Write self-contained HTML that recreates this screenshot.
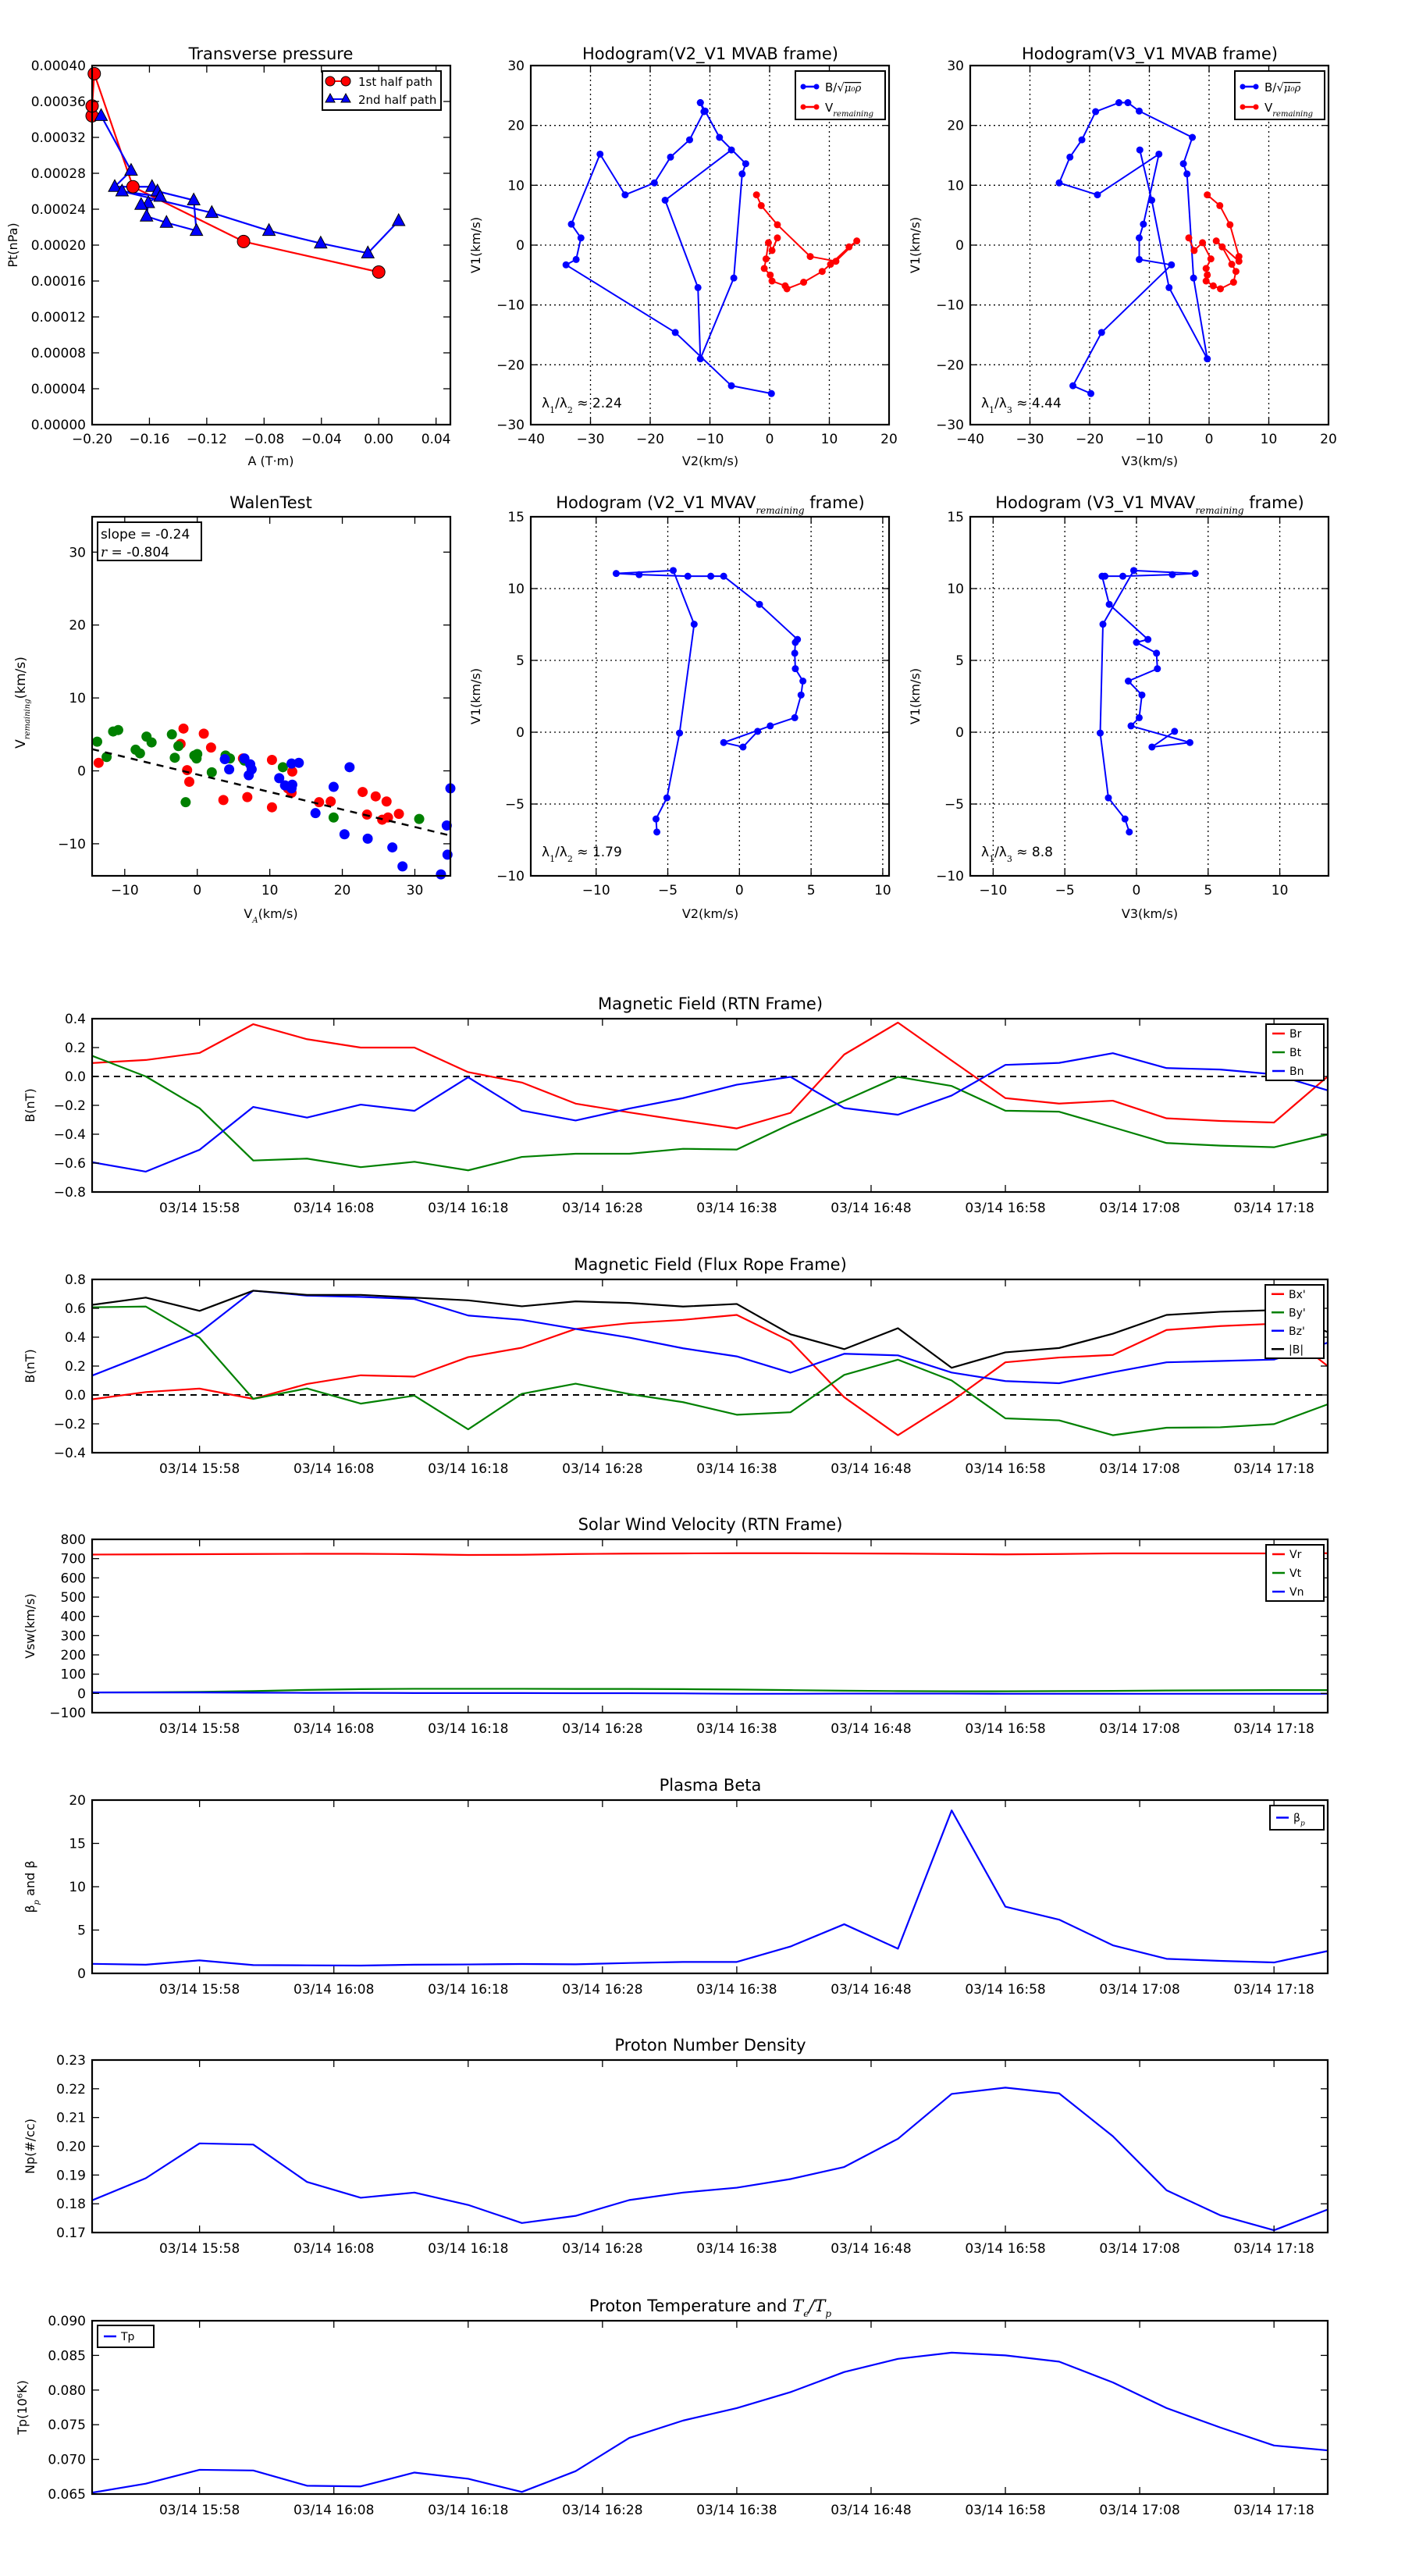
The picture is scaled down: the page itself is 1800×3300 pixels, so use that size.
<!DOCTYPE html>
<html><head><meta charset="utf-8"><style>
html,body{margin:0;padding:0;background:#fff}
svg{display:block;font-family:"DejaVu Sans","Liberation Sans",sans-serif}
</style></head><body>
<svg id="fig" xmlns="http://www.w3.org/2000/svg" width="1800" height="3300" viewBox="0 0 1800 3300"></svg>
<script>
// ---------- data ----------
const ptRedA = [-0.2,-0.2,-0.1985,-0.1715,-0.0943,0.0];
const ptRedP = [0.000344,0.000355,0.000391,0.000265,0.000204,0.00017];
const ptBlueA = [-0.1937,-0.1728,-0.1842,-0.1582,-0.1544,-0.1291,-0.1272,-0.1481,-0.162,-0.1608,-0.1658,-0.1525,-0.1791,-0.1165,-0.0766,-0.0405,-0.0076,0.0139];
const ptBlueP = [0.000344,0.000283,0.000265,0.000265,0.00026,0.00025,0.000216,0.000225,0.000232,0.000247,0.000245,0.000254,0.00026,0.000236,0.000216,0.000202,0.000191,0.000227];

const hbV1 = [-24.8,-23.5,-14.6,-3.3,-2.4,1.2,3.5,15.2,8.4,10.4,14.7,17.6,22.3,23.8,23.8,22.4,18.0,13.6,11.9,-5.5,-19.0,-7.1,7.5,15.9];
const hbV2 = [0.3,-6.4,-15.8,-34.1,-32.4,-31.6,-33.2,-28.4,-24.2,-19.3,-16.6,-13.4,-11.0,-11.6,-11.6,-10.8,-8.4,-4.0,-4.6,-6.0,-11.6,-12.0,-17.5,-6.4];
const hbV3 = [-19.8,-22.8,-18.0,-6.3,-11.7,-11.7,-11.0,-8.4,-18.7,-25.1,-23.3,-21.3,-19.0,-15.1,-13.6,-11.7,-2.8,-4.3,-3.7,-2.6,-0.3,-6.7,-9.6,-11.6];
const hrV1 = [8.4,6.6,3.4,-1.9,-2.7,0.7,-0.3,-3.2,-4.4,-6.2,-7.3,-6.8,-6.0,-5.0,-3.9,-2.3,0.4,-0.9,1.2];
const hrV2 = [-2.2,-1.4,1.3,6.8,11.1,14.6,13.3,10.2,8.8,5.7,2.9,2.6,0.4,0.1,-0.9,-0.6,-0.2,0.4,1.3];
const hrV3 = [-0.3,1.8,3.5,5.0,5.0,1.2,2.2,3.8,4.5,4.1,1.9,0.7,-0.5,-0.3,-0.5,0.3,-1.1,-2.5,-3.4];

const wRedX = [-13.6,-1.9,0.9,-2.3,1.9,-1.4,-1.1,3.6,6.9,6.3,10.3,10.3,12.5,13.1,13.0,16.8,18.4,22.8,23.4,24.6,25.5,26.1,26.3,27.8];
const wRedY = [1.1,5.8,5.1,3.7,3.2,0.1,-1.5,-4.0,-3.6,1.7,1.5,-5.0,-2.4,-0.1,-3.0,-4.3,-4.2,-2.9,-6.0,-3.5,-6.7,-4.2,-6.4,-5.9];
const wGreenX = [-13.8,-12.5,-11.6,-10.9,-8.5,-7.9,-7.0,-6.3,-3.5,-3.1,-2.6,-1.6,-0.4,0,-0.1,2.0,3.9,4.5,6.5,11.8,18.8,30.6];
const wGreenY = [4.0,1.9,5.4,5.6,2.9,2.4,4.7,3.9,5.0,1.8,3.4,-4.3,2.1,2.3,1.7,-0.2,2.1,1.7,1.4,0.5,-6.4,-6.6];
const wBlueX = [3.8,4.4,6.5,7.1,7.5,7.3,11.3,12.1,13.0,13.1,13.0,14.0,16.3,18.8,20.3,21.0,23.5,26.9,28.3,33.6,34.4,34.5,34.9];
const wBlueY = [1.6,0.2,1.7,-0.6,0.2,0.9,-1.0,-2.0,-2.4,-1.9,1.0,1.1,-5.8,-2.2,-8.7,0.5,-9.3,-10.5,-13.1,-14.2,-7.5,-11.5,-2.4];
const walenSlope = -0.24, walenIntercept = -0.5;

const mvV1 = [-6.95,-6.04,-4.57,-0.06,7.52,11.26,11.05,10.97,10.86,10.86,10.86,8.9,6.46,6.25,5.5,4.42,3.56,2.59,1.01,0.44,-0.72,-1.03,0.06];
const mvV2 = [-5.76,-5.82,-5.06,-4.18,-3.16,-4.62,-8.6,-7.0,-3.6,-2.0,-1.1,1.4,4.05,3.9,3.86,3.9,4.43,4.3,3.86,2.15,-1.1,0.25,1.27];
const mvV3 = [-0.5,-0.8,-1.96,-2.53,-2.34,-0.19,4.1,2.5,-0.95,-2.2,-2.4,-1.9,0.8,0.0,1.4,1.46,-0.57,0.38,0.19,-0.38,3.73,1.08,2.66];

const tMinutes = [0,4,8,12,16,20,24,28,32,36,40,44,48,52,56,60,64,68,72,76,80,84,88,92];
const tickMinutes = [8,18,28,38,48,58,68,78,88];
const tickLabels = ['03/14 15:58','03/14 16:08','03/14 16:18','03/14 16:28','03/14 16:38','03/14 16:48','03/14 16:58','03/14 17:08','03/14 17:18'];

const Br = [0.093,0.114,0.163,0.362,0.258,0.2,0.2,0.03,-0.042,-0.188,-0.249,-0.306,-0.36,-0.252,0.152,0.373,0.11,-0.15,-0.188,-0.168,-0.29,-0.308,-0.319,0.0];
const Bt = [0.143,0.0,-0.22,-0.582,-0.569,-0.628,-0.591,-0.65,-0.557,-0.535,-0.535,-0.501,-0.506,-0.33,-0.168,-0.003,-0.066,-0.237,-0.244,-0.352,-0.461,-0.479,-0.49,-0.402];
const Bn = [-0.594,-0.659,-0.508,-0.211,-0.285,-0.195,-0.238,-0.006,-0.236,-0.305,-0.222,-0.15,-0.057,-0.003,-0.219,-0.265,-0.132,0.08,0.094,0.161,0.058,0.048,0.015,-0.096];
const Bx = [-0.03,0.02,0.044,-0.027,0.076,0.136,0.127,0.262,0.327,0.457,0.497,0.52,0.554,0.372,-0.016,-0.279,-0.043,0.226,0.259,0.277,0.45,0.477,0.493,0.2];
const By = [0.607,0.612,0.396,-0.027,0.045,-0.06,-0.005,-0.238,0.008,0.078,0.006,-0.05,-0.137,-0.12,0.139,0.244,0.1,-0.162,-0.176,-0.279,-0.227,-0.224,-0.202,-0.065];
const Bz = [0.134,0.28,0.432,0.722,0.688,0.679,0.664,0.55,0.52,0.457,0.397,0.323,0.267,0.154,0.285,0.274,0.155,0.096,0.081,0.157,0.226,0.235,0.245,0.362];
const Bmag = [0.624,0.674,0.582,0.722,0.693,0.693,0.674,0.655,0.614,0.648,0.637,0.612,0.63,0.42,0.317,0.462,0.188,0.295,0.325,0.424,0.554,0.576,0.587,0.435];
const Vr = [721,722,723,724,725,725,723,719,720,724,726,727,728,728,727,726,724,722,724,727,727,727,727,728];
const Vt = [5,6,8,12,18,22,24,24,24,23,23,22,20,17,14,12,11,11,12,13,15,16,17,17];
const Vn = [5,5,5,4,3,3,2,2,2,1,1,0,-2,-2,-1,-1,-1,-2,-2,-2,-2,-2,-2,-2];
const Beta = [1.1,1.0,1.5,0.96,0.93,0.9,1.0,1.03,1.08,1.05,1.2,1.32,1.32,3.1,5.67,2.85,18.8,7.7,6.2,3.24,1.68,1.44,1.26,2.58];
const Np = [0.1812,0.1889,0.201,0.2006,0.1876,0.1821,0.1839,0.1796,0.1733,0.1758,0.1813,0.1839,0.1856,0.1886,0.1928,0.2026,0.2182,0.2204,0.2184,0.2035,0.1847,0.176,0.1708,0.178];
const Tp = [0.0652,0.0665,0.0685,0.0684,0.0662,0.0661,0.0681,0.0672,0.0653,0.0683,0.0731,0.0756,0.0774,0.0797,0.0826,0.0845,0.0854,0.085,0.0841,0.0811,0.0774,0.0746,0.072,0.0713];

// ---------- helpers ----------
const NS='http://www.w3.org/2000/svg';
const svg=document.getElementById('fig');
function mk(tag,attrs,parent){const e=document.createElementNS(NS,tag);for(const k in attrs)e.setAttribute(k,attrs[k]);(parent||svg).appendChild(e);return e;}
function nm(e,n){
  
  
  return e;
}
function txt(x,y,s,size,anchor,parent,extra){const t=mk('text',Object.assign({x:x,y:y,'font-size':size,'text-anchor':anchor||'middle',fill:'#000'},extra||{}),parent);t.textContent=s;return t;}
function fmtMinus(s){return String(s).replace('-','\u2212');}

function axes(o){
  const g=mk('g',{});
  nm(g,o.name);
  const sx=v=>o.x+(v-o.xmin)/(o.xmax-o.xmin)*o.w;
  const sy=v=>o.y+o.h-(v-o.ymin)/(o.ymax-o.ymin)*o.h;
  // grid
  if(o.grid){
    const gg=mk('g',{stroke:'#000','stroke-width':1.3,'stroke-dasharray':'2,4'},g);
    nm(gg,'grid');
    o.xt.forEach(v=>mk('line',{x1:sx(v),x2:sx(v),y1:o.y,y2:o.y+o.h},gg));
    o.yt.forEach(v=>mk('line',{x1:o.x,x2:o.x+o.w,y1:sy(v),y2:sy(v)},gg));
  }
  const plot=mk('g',{},g);
  nm(plot,'plot-area');
  // ticks
  const tk=mk('g',{stroke:'#000','stroke-width':1.3},g);
  nm(tk,'ticks');
  (o.xtPos||o.xt).forEach(v=>{const X=(o.xtPos?o.xpos(v):sx(v));mk('line',{x1:X,x2:X,y1:o.y+o.h,y2:o.y+o.h-9},tk);mk('line',{x1:X,x2:X,y1:o.y,y2:o.y+9},tk);});
  o.yt.forEach(v=>{mk('line',{x1:o.x,x2:o.x+9,y1:sy(v),y2:sy(v)},tk);mk('line',{x1:o.x+o.w,x2:o.x+o.w-9,y1:sy(v),y2:sy(v)},tk);});
  // tick labels
  const yl=mk('g',{},g);
  nm(yl,'y-tick-labels');
  o.yt.forEach((v,i)=>{txt(o.x-8,sy(v)+6,fmtMinus(o.ytl?o.ytl[i]:v),17,'end',yl);});
  const xl=mk('g',{},g);
  nm(xl,'x-tick-labels');
  (o.xtPos||o.xt).forEach((v,i)=>{const X=(o.xtPos?o.xpos(v):sx(v));txt(X,o.y+o.h+(o.xlOff||24),fmtMinus(o.xtl?o.xtl[i]:v),17,'middle',xl);});
  const fr=mk('rect',{x:o.x,y:o.y,width:o.w,height:o.h,fill:'none',stroke:'#000','stroke-width':2.2},g);
  nm(fr,'axes-frame');
  return {g,plot,sx,sy};
}
function polyline(ax,xs,ys,color,w,name){
  const p=mk('polyline',{points:xs.map((x,i)=>ax.sx(x)+','+ax.sy(ys[i])).join(' '),fill:'none',stroke:color,'stroke-width':w||2,'stroke-linejoin':'round'},ax.plot);
  nm(p,name);return p;
}
function dots(ax,xs,ys,color,r,name,stroke){
  const g=mk('g',{fill:color,stroke:stroke||'none'},ax.plot);
  nm(g,name);
  xs.forEach((x,i)=>mk('circle',{cx:ax.sx(x),cy:ax.sy(ys[i]),r:r},g));
  return g;
}
function title(x,y,s,name){const t=txt(x,y,s,21,'middle');nm(t,name);return t;}
function ylabel(x,y,s,name,size){const t=txt(0,0,s,size||16,'middle',svg,{transform:`translate(${x},${y}) rotate(-90)`});nm(t,name);return t;}
function sub(t,s,size,italic){const ts=mk('tspan',{'font-size':size,'baseline-shift':'sub','font-style':italic?'italic':'normal','font-family':'"DejaVu Serif","Liberation Serif",serif'},t);ts.textContent=s;return ts;}

// ---------- panel 1: transverse pressure ----------
{
 const yt=[0,0.00004,0.00008,0.00012,0.00016,0.0002,0.00024,0.00028,0.00032,0.00036,0.0004];
 const ax=axes({name:'transverse-pressure-chart',x:118,y:84,w:459,h:460,xmin:-0.2,xmax:0.05,ymin:0,ymax:0.0004,
  xt:[-0.2,-0.16,-0.12,-0.08,-0.04,0,0.04],xtl:['-0.20','-0.16','-0.12','-0.08','-0.04','0.00','0.04'],
  yt:yt,ytl:yt.map(v=>v.toFixed(5))});
 polyline(ax,ptRedA,ptRedP,'#f00',2.2,'first-half-line');
 polyline(ax,ptBlueA,ptBlueP,'#00f',2.2,'second-half-line');
 const rg=mk('g',{fill:'#f00',stroke:'#000','stroke-width':1},ax.plot);
 nm(rg,'first-half-markers');
 ptRedA.forEach((a,i)=>mk('circle',{cx:ax.sx(a),cy:ax.sy(ptRedP[i]),r:8},rg));
 const bg=mk('g',{fill:'#00f',stroke:'#000','stroke-width':1},ax.plot);
 nm(bg,'second-half-markers');
 ptBlueA.forEach((a,i)=>{const X=ax.sx(a),Y=ax.sy(ptBlueP[i]);mk('polygon',{points:`${X},${Y-9} ${X-8},${Y+6} ${X+8},${Y+6}`},bg);});
 const lg=mk('g',{},svg);
 nm(lg,'legend');
 mk('rect',{x:413,y:91,width:152,height:50,fill:'#fff',stroke:'#000','stroke-width':2},lg);
 mk('line',{x1:423,x2:443,y1:104,y2:104,stroke:'#f00','stroke-width':2},lg);
 mk('circle',{cx:423,cy:104,r:6,fill:'#f00',stroke:'#000'},lg);mk('circle',{cx:443,cy:104,r:6,fill:'#f00',stroke:'#000'},lg);
 txt(459,110,'1st half path',15,'start',lg);
 mk('line',{x1:423,x2:443,y1:127,y2:127,stroke:'#00f','stroke-width':2},lg);
 mk('polygon',{points:'423,120 417,131 429,131',fill:'#00f',stroke:'#000'},lg);mk('polygon',{points:'443,120 437,131 449,131',fill:'#00f',stroke:'#000'},lg);
 txt(459,133,'2nd half path',15,'start',lg);
 title(347,76,'Transverse pressure','transverse-pressure-title');
 ylabel(22,314,'Pt(nPa)','y-axis-title');
 const xl=txt(347,596,'A (T·m)',16,'middle');nm(xl,'x-axis-title');
}

// ---------- hodograms MVAB ----------
function hodoB(x0,vB,vR,name,ttl,xlab,lamSub,lamVal){
 const ax=axes({name:name,x:x0,y:84,w:459,h:460,xmin:-40,xmax:20,ymin:-30,ymax:30,grid:true,
  xt:[-40,-30,-20,-10,0,10,20],yt:[-30,-20,-10,0,10,20,30]});
 polyline(ax,vB,hbV1,'#00f',2,'b-hodogram-line');
 dots(ax,vB,hbV1,'#00f',4.5,'b-hodogram-points');
 polyline(ax,vR,hrV1,'#f00',2,'v-remaining-line');
 dots(ax,vR,hrV1,'#f00',4.5,'v-remaining-points');
 const lg=mk('g',{},svg);
 nm(lg,'legend');
 const lx=x0+339;
 mk('rect',{x:lx,y:91,width:115,height:62,fill:'#fff',stroke:'#000','stroke-width':2},lg);
 mk('line',{x1:lx+10,x2:lx+27,y1:111,y2:111,stroke:'#00f','stroke-width':2.5},lg);
 mk('circle',{cx:lx+10,cy:111,r:3.5,fill:'#00f'},lg);mk('circle',{cx:lx+27,cy:111,r:3.5,fill:'#00f'},lg);
 const t1=txt(lx+38,117,'B/√',15,'start',lg);
 const ts=mk('tspan',{'font-style':'italic','font-family':'"DejaVu Serif",serif','font-size':13,'text-decoration':'overline'},t1);ts.textContent='μ₀ρ';
 mk('line',{x1:lx+10,x2:lx+27,y1:137,y2:137,stroke:'#f00','stroke-width':2.5},lg);
 mk('circle',{cx:lx+10,cy:137,r:3.5,fill:'#f00'},lg);mk('circle',{cx:lx+27,cy:137,r:3.5,fill:'#f00'},lg);
 const t2=txt(lx+38,143,'V',15,'start',lg);sub(t2,'remaining',10,true);
 title(x0+230,76,ttl,'hodogram-title');
 ylabel(x0-65,314,'V1(km/s)','y-axis-title');
 const xl=txt(x0+230,596,xlab,16,'middle');nm(xl,'x-axis-title');
 const lt=txt(x0+14,522,'λ',17,'start');sub(lt,'1',11);const m=mk('tspan',{},lt);m.textContent='/λ';sub(lt,lamSub,11);const m2=mk('tspan',{},lt);m2.textContent=' ≈ '+lamVal;
 nm(lt,'eigenvalue-ratio');
}
hodoB(680,hbV2,hrV2,'hodogram-v2-v1-mvab','Hodogram(V2_V1 MVAB frame)','V2(km/s)','2','2.24');
hodoB(1243,hbV3,hrV3,'hodogram-v3-v1-mvab','Hodogram(V3_V1 MVAB frame)','V3(km/s)','3','4.44');

// ---------- Walen test ----------
{
 const ax=axes({name:'walen-test-chart',x:118,y:662,w:459,h:460,xmin:-14.5,xmax:34.9,ymin:-14.4,ymax:34.85,
  xt:[-10,0,10,20,30],yt:[-10,0,10,20,30]});
 dots(ax,wRedX,wRedY,'#f00',6.5,'walen-red-points');
 dots(ax,wGreenX,wGreenY,'#008000',6.5,'walen-green-points');
 dots(ax,wBlueX,wBlueY,'#00f',6.5,'walen-blue-points');
 const fx=[-14.5,34.9];
 const fl=mk('line',{x1:ax.sx(fx[0]),y1:ax.sy(walenSlope*fx[0]+walenIntercept),x2:ax.sx(fx[1]),y2:ax.sy(walenSlope*fx[1]+walenIntercept),stroke:'#000','stroke-width':2.5,'stroke-dasharray':'9,8'},ax.plot);
 nm(fl,'regression-line');
 const bx=mk('g',{},svg);
 nm(bx,'fit-stats-box');
 mk('rect',{x:125,y:669,width:133,height:49,fill:'#fff',stroke:'#000','stroke-width':2},bx);
 txt(129,690,'slope = -0.24',17,'start',bx);
 const r=txt(129,713,'',17,'start',bx);const ri=mk('tspan',{'font-style':'italic','font-family':'"DejaVu Serif",serif'},r);ri.textContent='r';const rr=mk('tspan',{},r);rr.textContent=' = -0.804';
 title(347,651,'WalenTest','walen-title');
 const yl=ylabel(32,900,'V','y-axis-title',17);sub(yl,'remaining',10,true);const y2=mk('tspan',{},yl);y2.textContent='(km/s)';
 const xl=txt(347,1176,'V',16,'middle');sub(xl,'A',10,true);const x2=mk('tspan',{},xl);x2.textContent='(km/s)';nm(xl,'x-axis-title');
}

// ---------- hodograms MVAV ----------
function hodoV(x0,xmin,xs,name,ch,lamSub,lamVal){
 const ax=axes({name:name,x:x0,y:662,w:459,h:460,xmin:xmin,xmax:xmin+25,ymin:-10,ymax:15,grid:true,
  xt:[-10,-5,0,5,10],yt:[-10,-5,0,5,10,15]});
 polyline(ax,xs,mvV1,'#00f',2,'b-hodogram-line');
 dots(ax,xs,mvV1,'#00f',4.5,'b-hodogram-points');
 const t=title(x0+230,651,'Hodogram ('+ch+'_V1 MVAV','hodogram-title');sub(t,'remaining',12,true);const e=mk('tspan',{},t);e.textContent=' frame)';
 ylabel(x0-65,892,'V1(km/s)','y-axis-title');
 const xl=txt(x0+230,1176,ch+'(km/s)',16,'middle');nm(xl,'x-axis-title');
 const lt=txt(x0+14,1097,'λ',17,'start');sub(lt,'1',11);const m=mk('tspan',{},lt);m.textContent='/λ';sub(lt,lamSub,11);const m2=mk('tspan',{},lt);m2.textContent=' ≈ '+lamVal;
 nm(lt,'eigenvalue-ratio');
}
hodoV(680,-14.56,mvV2,'hodogram-v2-v1-mvav','V2','2','1.79');
hodoV(1243,-11.6,mvV3,'hodogram-v3-v1-mvav','V3','3','8.8');

// ---------- time series ----------
function tpanel(o){
 const ax=axes({name:o.name,x:118,y:o.top,w:1583,h:o.bottom-o.top,xmin:0,xmax:92,ymin:o.ymin,ymax:o.ymax,
  xt:tickMinutes,xtl:tickLabels,yt:o.yt,ytl:o.ytl,xlOff:26});
 if(o.zero){const z=mk('line',{x1:118,x2:1701,y1:ax.sy(0),y2:ax.sy(0),stroke:'#000','stroke-width':2,'stroke-dasharray':'8,6'},ax.plot);nm(z,'zero-line');}
 o.series.forEach(s=>polyline(ax,tMinutes,s.d,s.c,2.2,s.n));
 const t=title(910,o.top-12,o.title,'panel-title');
 if(o.titleExtra)o.titleExtra(t);
 const yl=ylabel(o.ylx||44,(o.top+o.bottom)/2,o.ylabel,'y-axis-title',16);
 if(o.ylExtra)o.ylExtra(yl);
 if(o.legend){
  const L=o.legend;const lg=mk('g',{},svg);
  nm(lg,'legend');
  mk('rect',{x:L.x,y:L.y,width:L.w,height:L.h,fill:'#fff',stroke:'#000','stroke-width':2},lg);
  o.series.forEach((s,i)=>{const yy=L.y+L.h/(o.series.length)*(i+0.5);
   mk('line',{x1:L.x+8,x2:L.x+24,y1:yy,y2:yy,stroke:s.c,'stroke-width':2.5},lg);
   const tt=txt(L.x+30,yy+5,s.lab,14,'start',lg);if(s.labSub)sub(tt,s.labSub,9,true);});
 }
 return ax;
}
tpanel({name:'magnetic-field-rtn-chart',top:1305,bottom:1527,ymin:-0.8,ymax:0.4,yt:[-0.8,-0.6,-0.4,-0.2,0,0.2,0.4],ytl:['-0.8','-0.6','-0.4','-0.2','0.0','0.2','0.4'],zero:true,
 title:'Magnetic Field (RTN Frame)',ylabel:'B(nT)',
 series:[{d:Br,c:'#f00',n:'br-line',lab:'Br'},{d:Bt,c:'#008000',n:'bt-line',lab:'Bt'},{d:Bn,c:'#00f',n:'bn-line',lab:'Bn'}],
 legend:{x:1622,y:1312,w:74,h:72}});
tpanel({name:'magnetic-field-flux-rope-chart',top:1639,bottom:1861,ymin:-0.4,ymax:0.8,yt:[-0.4,-0.2,0,0.2,0.4,0.6,0.8],ytl:['-0.4','-0.2','0.0','0.2','0.4','0.6','0.8'],zero:true,
 title:'Magnetic Field (Flux Rope Frame)',ylabel:'B(nT)',
 series:[{d:Bx,c:'#f00',n:'bx-line',lab:"Bx'"},{d:By,c:'#008000',n:'by-line',lab:"By'"},{d:Bz,c:'#00f',n:'bz-line',lab:"Bz'"},{d:Bmag,c:'#000',n:'b-magnitude-line',lab:'|B|'}],
 legend:{x:1621,y:1646,w:75,h:94}});
tpanel({name:'solar-wind-velocity-chart',top:1972,bottom:2194,ymin:-100,ymax:800,yt:[-100,0,100,200,300,400,500,600,700,800],
 title:'Solar Wind Velocity (RTN Frame)',ylabel:'Vsw(km/s)',
 series:[{d:Vr,c:'#f00',n:'vr-line',lab:'Vr'},{d:Vt,c:'#008000',n:'vt-line',lab:'Vt'},{d:Vn,c:'#00f',n:'vn-line',lab:'Vn'}],
 legend:{x:1622,y:1979,w:74,h:72}});
tpanel({name:'plasma-beta-chart',top:2306,bottom:2528,ymin:0,ymax:20,yt:[0,5,10,15,20],
 title:'Plasma Beta',ylabel:'β',ylExtra:t=>{sub(t,'p',10,true);const a=mk('tspan',{},t);a.textContent=' and β';},
 series:[{d:Beta,c:'#00f',n:'beta-line',lab:'β',labSub:'p'}],
 legend:{x:1627,y:2313,w:69,h:31}});
tpanel({name:'proton-density-chart',top:2639,bottom:2860,ymin:0.17,ymax:0.23,yt:[0.17,0.18,0.19,0.2,0.21,0.22,0.23],ytl:['0.17','0.18','0.19','0.20','0.21','0.22','0.23'],
 title:'Proton Number Density',ylabel:'Np(#/cc)',series:[{d:Np,c:'#00f',n:'np-line',lab:'Np'}]});
{
 const ax=tpanel({name:'proton-temperature-chart',top:2973,bottom:3195,ymin:0.065,ymax:0.09,yt:[0.065,0.07,0.075,0.08,0.085,0.09],ytl:['0.065','0.070','0.075','0.080','0.085','0.090'],
 title:'Proton Temperature and ',titleExtra:t=>{const a=mk('tspan',{'font-style':'italic','font-family':'"DejaVu Serif",serif'},t);a.textContent='T';sub(t,'e',12,true);const b=mk('tspan',{'font-style':'italic','font-family':'"DejaVu Serif",serif'},t);b.textContent='/T';sub(t,'p',12,true);},
 ylabel:'Tp(10⁶K)',ylx:34,series:[{d:Tp,c:'#00f',n:'tp-line',lab:'Tp'}],
 legend:{x:125,y:2979,w:72,h:28}});
}
</script>
</body></html>
